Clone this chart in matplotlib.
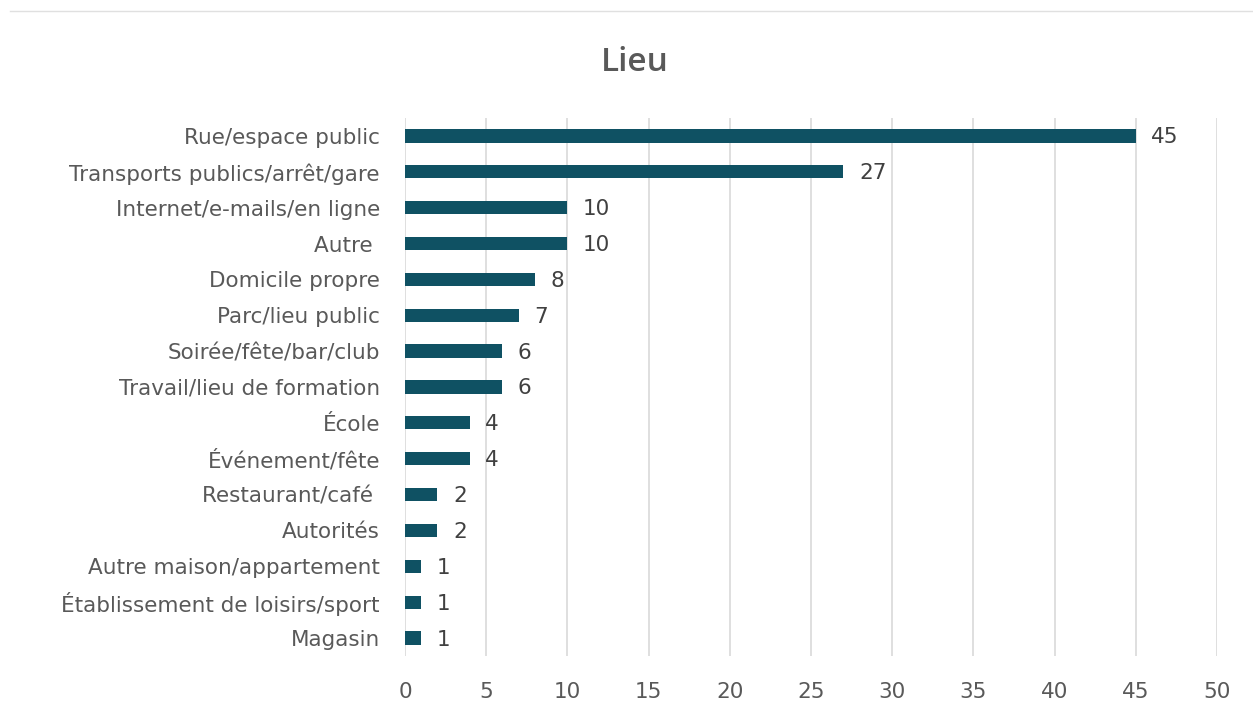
import matplotlib.pyplot as plt
from matplotlib.lines import Line2D

categories = ['Rue/espace public', 'Transports publics/arrêt/gare', 'Internet/e-mails/en ligne',
              'Autre ', 'Domicile propre', 'Parc/lieu public', 'Soirée/fête/bar/club',
              'Travail/lieu de formation', 'École', 'Événement/fête', 'Restaurant/café ',
              'Autorités', 'Autre maison/appartement', 'Établissement de loisirs/sport', 'Magasin']
values = [45, 27, 10, 10, 8, 7, 6, 6, 4, 4, 2, 2, 1, 1, 1]
xticks = [0, 5, 10, 15, 20, 25, 30, 35, 40, 45, 50]

bar_color = '#0F5163'
text_color = '#595959'

plt.rcParams['font.family'] = ['DejaVu Sans']

fig = plt.figure(figsize=(12.53, 7.15), dpi=100)
ax = fig.add_axes([0.3232, 0.0825, 0.9713 - 0.3232, 0.835 - 0.0825])

y = list(range(len(categories)))
ax.barh(y, values, height=0.37, color=bar_color, zorder=3)
for yi, v in zip(y, values):
    ax.text(v + 0.95, yi + 0.04, str(v), va='center', ha='left', fontsize=15.5, color='#404040')

ax.set_ylim(len(categories) - 0.5, -0.5)
ax.set_xlim(0, 50)
ax.set_yticks(y)
ax.set_yticklabels(categories, fontsize=15.5, color=text_color)
ax.set_xticks(xticks)
ax.set_xticklabels([str(t) for t in xticks], fontsize=15.5, color=text_color)
ax.tick_params(axis='both', length=0)
ax.tick_params(axis='y', pad=18)
ax.tick_params(axis='x', pad=19)
ax.grid(axis='x', color='#d9d9d9', linewidth=1.2, zorder=0)
for s in ax.spines.values():
    s.set_visible(False)

fig.text(0.507, 0.913, 'Lieu', ha='center', va='center', fontsize=24,
         color=text_color, family='Open Sans', weight='semibold')
fig.add_artist(Line2D([0.008, 1.0], [0.985, 0.985], color='#e0e0e0', linewidth=1,
                      transform=fig.transFigure))

fig.savefig('out.png', dpi=100, facecolor='white')
